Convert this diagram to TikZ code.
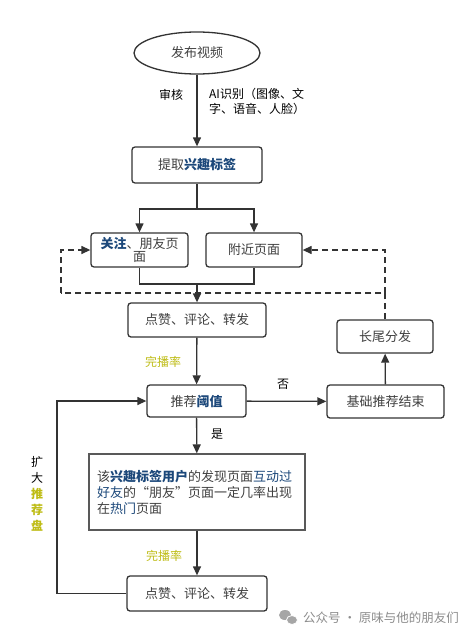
\documentclass[tikz,border=0pt]{standalone}
\usepackage{fontspec}
\setmainfont{Noto Sans CJK SC}
\usetikzlibrary{arrows.meta, shapes.geometric}
\colorlet{flowText}{black!75}
\colorlet{flowEdge}{black!80}
\definecolor{tagBlue}{RGB}{28,72,122}
\definecolor{rateOlive}{RGB}{190,188,20}
\tikzstyle{flowbox}=[draw=flowEdge, line width=1.3pt, rounded corners=3pt, fill=white, text=flowText, font=\fontsize{13}{16}\selectfont, align=center, inner sep=0pt]
\tikzstyle{flowline}=[draw=flowEdge, line width=1.3pt, -{Triangle[length=9pt,width=8pt]}]
\tikzstyle{dashline}=[flowline, dash pattern=on 6pt off 4pt]
\tikzstyle{note}=[font=\fontsize{12}{15}\selectfont, text=black, inner sep=0pt]

\begin{document}
\begin{tikzpicture}[x=1pt, y=-1pt]
				\useasboundingbox[fill=white] (0,0) rectangle (469,637);

				\coordinate (split) at (197,209);
				\coordinate (merge) at (197,284);
				\coordinate (dashR) at (385,293);
				\coordinate (dashL) at (61,293);
				\coordinate (loopL) at (57,593.5);

				\node[flowbox, ellipse, sharp corners, minimum width=126pt, minimum height=42pt] (video) at (197,53) {发布视频};
				\node[flowbox, minimum width=130pt, minimum height=36pt] (tag) at (197,165) {提取\textcolor{tagBlue}{\bfseries 兴趣标签}};
				\node[flowbox, minimum width=97pt, minimum height=34pt] (follow) at (139.5,250) {\textcolor{tagBlue}{\bfseries 关注}、朋友页\\[-3pt]面};
				\node[flowbox, minimum width=96pt, minimum height=34pt] (nearby) at (254,250) {附近页面};
				\node[flowbox, minimum width=138pt, minimum height=34pt] (like1) at (197,320) {点赞、评论、转发};
				\node[flowbox, minimum width=96pt, minimum height=33pt] (tail) at (385,336.5) {长尾分发};
				\node[flowbox, minimum width=99pt, minimum height=32pt] (thresh) at (196.5,401) {推荐\textcolor{tagBlue}{\bfseries 阈值}};
				\node[flowbox, minimum width=117pt, minimum height=33pt] (base) at (385.5,401.5) {基础推荐结束};
				\node[flowbox, draw=black!65, sharp corners, minimum width=216pt, minimum height=76pt, text width=200pt, align=left] (hot) at (197,492) {该\textcolor{tagBlue}{\bfseries 兴趣标签用户}的发现页面\textcolor{tagBlue}{互动过}\\\textcolor{tagBlue}{好友}的“朋友”页面一定几率出现\\在\textcolor{tagBlue}{热门}页面};
				\node[flowbox, minimum width=140pt, minimum height=35pt] (like2) at (197,593.5) {点赞、评论、转发};

				\draw[flowline] (video) -- (tag);
				\draw[flowbox, -] (tag) -- (split);
				\draw[flowline] (split) -| (follow);
				\draw[flowline] (split) -| (nearby);
				\draw[flowline, -] (follow) |- (merge) -| (nearby);
				\draw[flowline] (merge) -- (like1);
				\draw[flowline] (like1) -- (thresh);
				\draw[flowline] (thresh) -- (base);
				\draw[flowline] (base) -- (tail);
				\draw[flowline] (thresh) -- (hot);
				\draw[flowline] (hot) -- (like2);
				\draw[flowline] (like2) -- (loopL) |- (thresh);
				\draw[dashline, -] (tail) -- (dashR) -- (dashL);
				\draw[dashline] (dashL) |- (follow);
				\draw[dashline] (dashR) |- (nearby);

				\node[note] (audit) at (171,95) {审核};
				\node[note, anchor=north west, align=left] (ai) at (209,88) {AI识别（图像、文\\字、语音、人脸）};
				\node[note, text=rateOlive] (rate1) at (163,362) {完播率};
				\node[note] (no) at (283,384) {否};
				\node[note] (yes) at (217,434) {是};
				\node[note, text=rateOlive] (rate2) at (164,556) {完播率};
				\node[note, align=center, font=\fontsize{12}{16}\selectfont] (expand) at (37,494) {扩\\大\\\textcolor{rateOlive}{\bfseries 推}\\\textcolor{rateOlive}{\bfseries 荐}\\\textcolor{rateOlive}{\bfseries 盘}};

				\fill[black!35] (285,615) ellipse (6pt and 5pt);
				\fill[black!35, draw=white, line width=0.8pt] (292,620) ellipse (5.5pt and 4.5pt);
				\node[note, anchor=west, text=black!45, font=\fontsize{12.5}{15}\selectfont] (mark) at (303,618) {公众号 · 原味与他的朋友们};
			\end{tikzpicture}
\end{document}
